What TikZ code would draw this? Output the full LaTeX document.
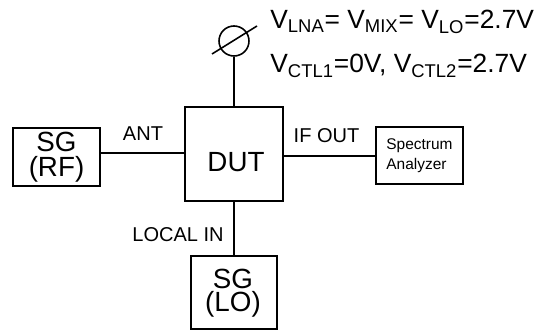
\documentclass[tikz,border=0pt]{standalone}
\usepackage{fontspec}
\setmainfont{Liberation Sans}
\newcommand{\vsub}[2]{V\textsubscript{#1}#2}
\tikzset{
	box/.style={draw,line width=0.9pt,inner sep=0pt,align=center},
	wire/.style={line width=0.9pt},
	lbl/.style={inner sep=0pt,font=\fontsize{11.4pt}{12pt}\selectfont},
	sgtext/.style={font=\fontsize{15.8pt}{14.2pt}\selectfont},
}
\begin{document}
\begin{tikzpicture}[x=0.02cm,y=-0.02cm]
	\useasboundingbox (0,0) rectangle (534,330);
	
	%DUT
	\node[box,minimum width=98*0.02cm,minimum height=94*0.02cm] (dut) at (234,154) {};
	\node[inner sep=0pt,anchor=base,font=\fontsize{15.8pt}{16pt}\selectfont] (duttext) at (236,172) {DUT};
	
	%SG links und unten
	\node[box,sgtext,minimum width=87*0.02cm,minimum height=58*0.02cm] (sgrf) at (56.5,157) {SG\\(RF)};
	\node[box,minimum width=86*0.02cm,minimum height=73*0.02cm] (sglo) at (234,292.5) {};
	\node[inner sep=0pt,align=center,font=\fontsize{15.8pt}{13.1pt}\selectfont] (sglotext) at (233,293) {SG\\(LO)};
	
	%Spectrum
	\node[box,minimum width=87*0.02cm,minimum height=57*0.02cm,font=\fontsize{8.8pt}{11.5pt}\selectfont,align=left] (sa) at (419.5,155.5) {Spectrum\\Analyzer};
	
	%Versorgung
	\node[draw,circle,line width=0.9pt,minimum size=30*0.02cm,inner sep=0pt] (vcc) at (234,41) {};
	\coordinate (s1) at (212,54);
	\coordinate (s2) at (257,26);
	\draw[wire] (s1) -- (s2);
	
	\draw[wire] (vcc) -- (dut);
	\draw[wire] (sgrf.east |- 0,153) -- (dut.west |- 0,153);
	\draw[wire] (dut.east |- 0,156) -- (sa.west |- 0,156);
	\draw[wire] (dut) -- (sglo);
	
	\node[lbl,anchor=base] (ant) at (143,141) {ANT};
	\node[lbl,anchor=base] (ifout) at (326.5,143) {IF OUT};
	\node[lbl,anchor=base] (localin) at (178,242) {LOCAL IN};
	
	\node[anchor=base west,inner sep=0pt,font=\fontsize{15pt}{16pt}\selectfont] (v1) at (270,29) {\vsub{LNA}{= }\vsub{MIX}{= }\vsub{LO}{=2.7V}};
	\node[anchor=base west,inner sep=0pt,font=\fontsize{15pt}{16pt}\selectfont] (v2) at (270,73) {\vsub{CTL1}{=0V, }\vsub{CTL2}{=2.7V}};
\end{tikzpicture}
\end{document}
